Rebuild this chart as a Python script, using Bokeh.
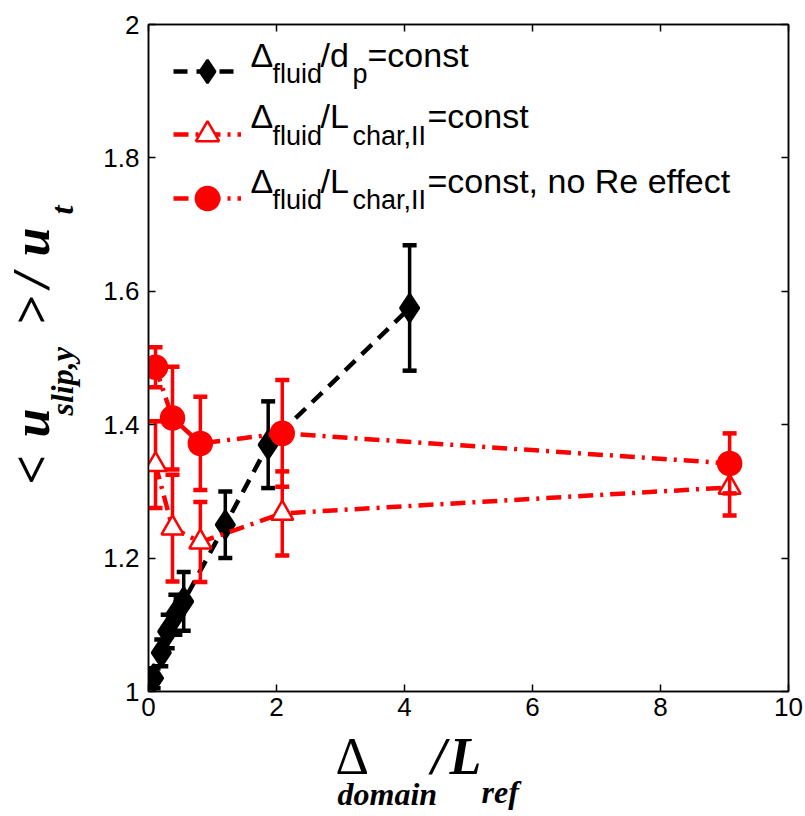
from math import pi
from bokeh.plotting import figure
from bokeh.layouts import row, column
from bokeh.models import (ColumnDataSource, Label, Legend, LegendItem, FixedTicker,
                          LinearAxis, Range1d, NumeralTickFormatter)
from bokeh.embed import file_html
from bokeh.resources import INLINE

# ---------------- data ----------------
# Delta_fluid / d_p = const (black diamonds)
x_dp = [0.08, 0.2, 0.3, 0.42, 0.55, 1.2, 1.87, 4.08]
y_dp = [1.02, 1.058, 1.09, 1.115, 1.135, 1.25, 1.37, 1.575]
e_dp = [0.015, 0.02, 0.025, 0.03, 0.044, 0.05, 0.065, 0.094]

# Delta_fluid / L_char,II = const (red open triangles)
x_lc = [0.11, 0.375, 0.81, 2.09, 9.08]
y_lc = [1.34, 1.245, 1.224, 1.267, 1.306]
e_lc = [0.065, 0.08, 0.06, 0.063, 0.042]

# Delta_fluid / L_char,II = const, no Re effect (red filled circles)
x_nr = [0.11, 0.375, 0.81, 2.09, 9.08]
y_nr = [1.486, 1.41, 1.372, 1.387, 1.342]
e_nr = [0.03, 0.077, 0.07, 0.08, 0.045]

x_ticks = [0, 2, 4, 6, 8, 10]
y_ticks = [1.0, 1.2, 1.4, 1.6, 1.8, 2.0]
y_tick_labels = ["1", "1.2", "1.4", "1.6", "1.8", "2"]

SANS = "Liberation Sans"
SER = "Liberation Serif"


def src(x, y, e):
    return ColumnDataSource(dict(x=x, y=y, lo=[a - b for a, b in zip(y, e)],
                                 hi=[a + b for a, b in zip(y, e)]))


def bare_fig(w, h, left=0, right=0, top=0, bottom=0):
    f = figure(frame_width=w, frame_height=h, x_range=Range1d(0, 1), y_range=Range1d(0, 1),
               output_backend="svg", toolbar_location=None,
               x_axis_location=None, y_axis_location=None,
               min_border_left=left, min_border_right=right,
               min_border_top=top, min_border_bottom=bottom,
               background_fill_color="white", border_fill_color="white")
    f.grid.visible = False
    f.outline_line_color = None
    return f


def txt(f, t, x, y, size, font=SANS, style="normal", angle=0.0, shift=0.37):
    # x, y: baseline start in screen px of the figure's frame (y up)
    if angle == 0.0:
        y = y + shift * size
    else:
        x = x - shift * size
    f.add_layout(Label(x=x, y=y, x_units="screen", y_units="screen", text=t,
                       text_font_size=f"{size}px", text_font=font, text_font_style=style,
                       text_color="black", text_align="left", text_baseline="alphabetic",
                       angle=angle))


s_dp = src(x_dp, y_dp, e_dp)
s_lc = src(x_lc, y_lc, e_lc)
s_nr = src(x_nr, y_nr, e_nr)

BOTTOM_BORDER = 38

# ---------------- main plot ----------------
p = figure(frame_width=640, frame_height=667,
           x_range=Range1d(0, 10), y_range=Range1d(1, 2),
           output_backend="svg", toolbar_location=None,
           min_border_left=60, min_border_right=17,
           min_border_top=24, min_border_bottom=BOTTOM_BORDER,
           background_fill_color="white", border_fill_color="white")
p.grid.visible = False
p.outline_line_color = "black"
p.outline_line_width = 1.5

bottom = p.below[0]
left = p.left[0]
bottom.ticker = FixedTicker(ticks=x_ticks)
left.ticker = FixedTicker(ticks=y_ticks)
left.formatter = NumeralTickFormatter(format="0.[0]")
left.major_label_overrides = dict(zip(y_ticks, y_tick_labels))

top = LinearAxis(ticker=FixedTicker(ticks=x_ticks),
                 major_label_overrides={t: "" for t in x_ticks}, major_label_standoff=0)
right = LinearAxis(ticker=FixedTicker(ticks=y_ticks),
                   major_label_overrides={t: "" for t in y_ticks}, major_label_standoff=0)
p.add_layout(top, "above")
p.add_layout(right, "right")

for ax in [bottom, left, top, right]:
    ax.major_tick_in = 7
    ax.major_tick_out = 0
    ax.minor_tick_in = 0
    ax.minor_tick_out = 0
    ax.axis_line_color = "black"
    ax.axis_line_width = 1.5
    ax.major_tick_line_width = 1.5
    ax.major_tick_line_color = "black"
    ax.major_label_text_color = "black"
    ax.major_label_text_font = SANS
bottom.major_label_text_font_size = "26px"
bottom.major_label_standoff = 6
left.major_label_text_font_size = "26px"
left.major_label_standoff = 9


def series(s, color, dash, marker, size, fill):
    p.segment(x0="x", y0="lo", x1="x", y1="hi", source=s, line_color=color, line_width=3.5)
    p.scatter(x="x", y="lo", source=s, marker="dash", size=14, line_color=color, line_width=4.5)
    p.scatter(x="x", y="hi", source=s, marker="dash", size=14, line_color=color, line_width=4.5)
    ln = p.line(x="x", y="y", source=s, line_color=color, line_width=4.5, line_dash=dash)
    mk = p.scatter(x="x", y="y", source=s, marker=marker, size=size, fill_color=fill,
                   line_color=color, line_width=2.5)
    return ln, mk


r_dp = series(s_dp, "black", "14 9", "diamond", 28, "black")
r_lc = series(s_lc, "red", "15 7 3 7", "triangle", 22, "white")
r_nr = series(s_nr, "red", "15 7 3 7", "circle", 23, "red")

# legend samples (text is drawn with labels)
for rs, ybot in [(r_dp, 591), (r_lc, 528), (r_nr, 464)]:
    leg = Legend(items=[LegendItem(label="", renderers=list(rs))], location=(25, ybot),
                 glyph_width=68, glyph_height=58, padding=0, margin=0, spacing=0,
                 label_standoff=0, label_width=0, label_height=0,
                 label_text_font_size="0px", border_line_color=None,
                 background_fill_alpha=0)
    p.add_layout(leg, "center")

for ym, ys, sub2, tail, xt in [(624, 608, ("/d", "p"), "=const", 219),
                               (563, 546, ("/L", "char,II"), "=const", 279),
                               (498, 482, ("/L", "char,II"), "=const, no Re effect", 279)]:
    txt(p, "\u0394", 102, ym, 34)
    txt(p, "fluid", 124, ys, 27)
    txt(p, sub2[0], 172, ym, 34)
    txt(p, sub2[1], 204, ys, 27)
    txt(p, tail, xt, ym, 34)

# ---------------- y label panel (abs x 0..88, frame abs y 24..691) ----------------
ylab = bare_fig(88, 667, top=24, bottom=BOTTOM_BORDER)
A = pi / 2
BI = "bold italic"
txt(ylab, "<", 50, 207, 52, SER, BI, A)
txt(ylab, "u", 50, 254, 52, SER, BI, A)
txt(ylab, "slip,y", 73, 276, 32, SER, BI, A)
txt(ylab, ">", 50, 366, 52, SER, BI, A)
txt(ylab, "/", 50, 404, 52, SER, BI, A)
txt(ylab, "u", 50, 435, 52, SER, BI, A)
txt(ylab, "t", 73, 477, 32, SER, BI, A)

# ---------------- x label panel (frame abs x 148..788, abs y 729..816) ----------------
xlab = bare_fig(640, 816 - (24 + 667 + BOTTOM_BORDER), left=148, right=17)
S2 = 0.52
txt(xlab, "\u0394", 187, 33, 52, SER, shift=S2)
txt(xlab, "domain", 189, 6, 32, SER, BI, shift=S2)
txt(xlab, "/", 283, 33, 52, SER, BI, shift=S2)
txt(xlab, "L", 301, 33, 52, SER, BI, shift=S2)
txt(xlab, "ref", 333, 8, 32, SER, BI, shift=S2)

layout = column(row(ylab, p, spacing=0), xlab, spacing=0)
open("out.html", "w").write(file_html(layout, INLINE))
